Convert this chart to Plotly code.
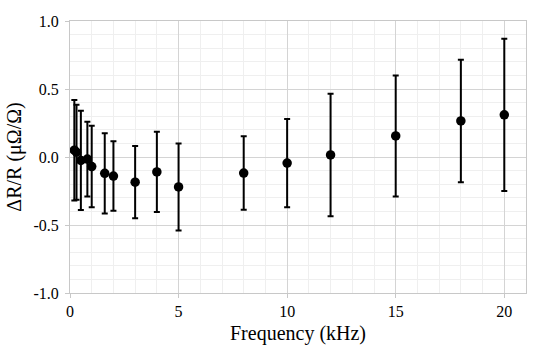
import plotly.graph_objects as go

freq_khz = [0.2, 0.3, 0.5, 0.8, 1.0, 1.6, 2.0, 3.0, 4.0, 5.0, 8.0, 10.0, 12.0, 15.0, 18.0, 20.0]
delta_r = [0.05, 0.035, -0.025, -0.015, -0.07, -0.12, -0.14, -0.185, -0.11, -0.22,
           -0.118, -0.045, 0.015, 0.155, 0.265, 0.31]
err = [0.37, 0.35, 0.365, 0.275, 0.30, 0.295, 0.255, 0.265, 0.295, 0.32,
       0.27, 0.325, 0.45, 0.445, 0.45, 0.56]

x_ticks = [0, 5, 10, 15, 20]
y_ticks = [-1.0, -0.5, 0.0, 0.5, 1.0]
y_tick_labels = ["-1.0", "-0.5", "0.0", "0.5", "1.0"]

fig = go.Figure(go.Scatter(
    x=freq_khz, y=delta_r, mode="markers",
    marker=dict(color="black", size=9.5),
    error_y=dict(type="data", array=err, visible=True, color="black", thickness=2, width=3),
    showlegend=False,
))

font_family = "Times New Roman"
fig.update_layout(
    width=550, height=356,
    margin=dict(l=70, r=24, t=21, b=63),
    paper_bgcolor="white", plot_bgcolor="white",
    font=dict(family=font_family, color="black", size=16),
)
fig.update_xaxes(
    range=[0, 21], tickvals=x_ticks, ticktext=[str(v) for v in x_ticks],
    automargin=False,
    tickfont=dict(family=font_family, size=16),
    showgrid=True, gridcolor="#d4d4d4", gridwidth=1,
    minor=dict(dtick=1, tick0=0, showgrid=True, gridcolor="#efefef", gridwidth=1),
    showline=True, linecolor="#c8c8c8", linewidth=1, mirror=True,
    ticks="outside", ticklen=4, tickcolor="#c8c8c8",
    zeroline=False,
    title=dict(text="Frequency (kHz)", font=dict(family=font_family, size=20), standoff=6),
)
fig.update_yaxes(
    range=[-1.0, 1.0], tickvals=y_ticks, ticktext=y_tick_labels,
    automargin=False,
    tickfont=dict(family=font_family, size=16),
    ticklabelstandoff=3,
    showgrid=True, gridcolor="#d4d4d4", gridwidth=1,
    minor=dict(dtick=0.1, tick0=0, showgrid=True, gridcolor="#efefef", gridwidth=1),
    showline=True, linecolor="#c8c8c8", linewidth=1, mirror=True,
    ticks="outside", ticklen=4, tickcolor="#c8c8c8",
    zeroline=False,
    title=dict(text="ΔR/R (μΩ/Ω)", font=dict(family=font_family, size=20), standoff=6),
)
fig.write_html("out.html", config={"displayModeBar": False},
               post_script="document.body.style.margin='0';")
